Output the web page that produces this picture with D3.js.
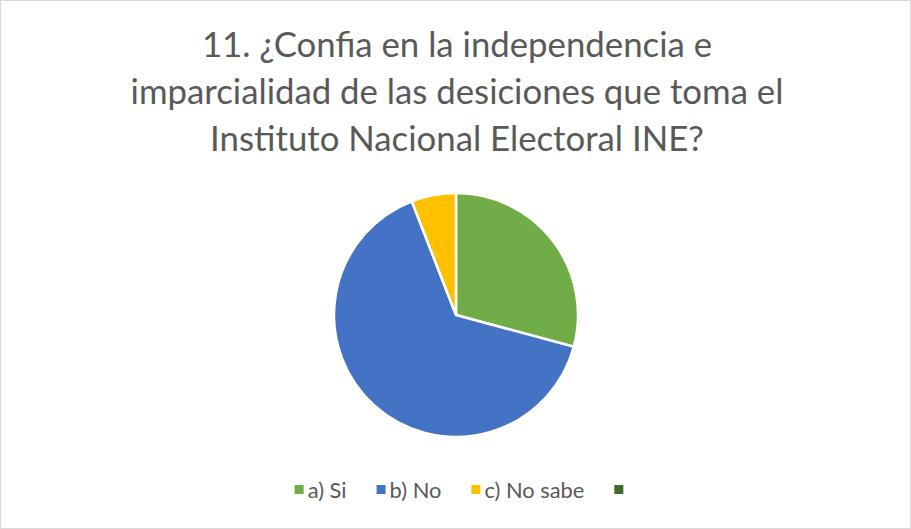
<!DOCTYPE html>
<html>
<head>
<meta charset="utf-8">
<script src="https://cdn.jsdelivr.net/npm/d3@7"></script>
<style>
  html, body { margin: 0; padding: 0; background: #fff; }
  svg { display: block; }
</style>
</head>
<body>
<div id="chart"></div>
<script>
(function () {
    // Chart data
    const categories = ["a) Si", "b) No", "c) No sabe", ""];
    const values = [29.2, 64.9, 5.9, 0];
    const colors = ["#70AD47", "#4472C4", "#FFC000", "#43682B"];
    const titleLines = [
        "11. ¿Confia en la independencia e",
        "imparcialidad de las desiciones que toma el",
        "Instituto Nacional Electoral INE?"
    ];

    const width = 911, height = 529;
    const font = "Lato, 'Open Sans', sans-serif";

    const svg = d3.select("#chart").append("svg")
        .attr("width", width)
        .attr("height", height);

    // chart border
    svg.append("rect")
        .attr("x", 0.5).attr("y", 0.5)
        .attr("width", width - 1).attr("height", height - 1)
        .attr("fill", "#fff")
        .attr("stroke", "#d9d9d9");

    // Title, sized so the longest line spans about the same width as the original
    const title = svg.append("g").attr("class", "title");
    const lines = title.selectAll("text")
        .data(titleLines)
        .join("text")
        .attr("x", 457)
        .attr("y", (d, i) => 57 + i * 47)
        .attr("text-anchor", "middle")
        .attr("fill", "#595959")
        .style("font-family", font)
        .style("font-size", "30px")
        .text(d => d);
    const longest = d3.max(lines.nodes(), n => n.getComputedTextLength());
    lines.style("font-size", (30 * 653 / longest) + "px");

    // Pie
    const cx = 456, cy = 315, r = 122;
    const pie = d3.pie().sort(null).value(d => d.value);
    const arc = d3.arc().innerRadius(0).outerRadius(r);
    const slices = pie(categories.map((c, i) => ({ name: c, value: values[i], color: colors[i] })));

    svg.append("g")
        .attr("transform", `translate(${cx},${cy})`)
        .selectAll("path")
        .data(slices.filter(d => d.data.value > 0))
        .join("path")
        .attr("d", arc)
        .attr("fill", d => d.data.color)
        .attr("stroke", "#fff")
        .attr("stroke-width", 2.5)
        .attr("stroke-linejoin", "round");

    // Legend
    const legend = svg.append("g").attr("class", "legend");
    const items = legend.selectAll("g")
        .data(categories)
        .join("g");
    items.append("rect")
        .attr("width", 9).attr("height", 9)
        .attr("y", -5)
        .attr("fill", (d, i) => colors[i]);
    const labels = items.append("text")
        .attr("x", 13)
        .attr("y", 0)
        .attr("dy", "0.35em")
        .attr("fill", "#595959")
        .style("font-family", font)
        .style("font-size", "16px")
        .text(d => d);
    // match the width of "c) No sabe" in the original (~100px)
    const sabeW = labels.filter(d => d === "c) No sabe").node().getComputedTextLength();
    labels.style("font-size", (16 * 100 / sabeW) + "px");

    let xPos = 0;
    items.each(function () {
        const w = this.getBBox().width;
        d3.select(this).attr("transform", `translate(${xPos},0)`);
        xPos += w + 30;
    });
    const total = xPos - 30;
    legend.attr("transform", `translate(${459 - total / 2},${490})`);
})();
</script>
</body>
</html>
